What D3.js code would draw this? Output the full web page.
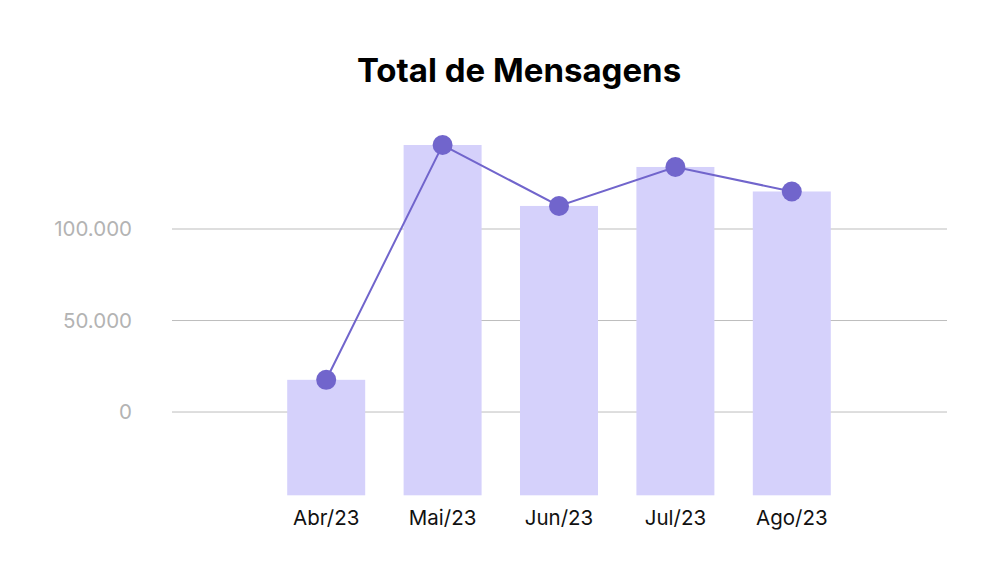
<!DOCTYPE html>
<html>
<head>
<meta charset="utf-8">
<script src="https://cdn.jsdelivr.net/npm/d3@7"></script>
<style>
  body { margin: 0; background: #fff; }
  text { font-family: Inter, "Noto Sans", sans-serif; }
</style>
</head>
<body>
<svg class="display"></svg>
<script>
const months = ['Abr/23', 'Mai/23', 'Jun/23', 'Jul/23', 'Ago/23'];
const totals = [17600, 145900, 112600, 133900, 120500];
const yTicks = [0, 50000, 100000];

const width = 1000;
const height = 583;

const svg = d3.select('.display')
  .attr('width', width)
  .attr('height', height);

const x = d3.scaleBand()
  .domain(months)
  .range([268, 850])
  .paddingInner(0.33)
  .paddingOuter(0.165);

const y = d3.scaleLinear()
  .domain([-45500, 150000])
  .range([495.3, 137.5]);

const fmt = d => d3.format(',')(d).replace(/,/g, '.');

// gridlines + tick labels
const grid = svg.append('g');
grid.selectAll('line')
  .data(yTicks)
  .enter().append('line')
    .attr('x1', 172)
    .attr('x2', 947)
    .attr('y1', d => y(d))
    .attr('y2', d => y(d))
    .attr('stroke', '#bdbdbd')
    .attr('stroke-width', 1);

grid.selectAll('text')
  .data(yTicks)
  .enter().append('text')
    .attr('x', 132)
    .attr('y', d => y(d))
    .attr('dy', '.35em')
    .attr('text-anchor', 'end')
    .attr('font-size', 20.5)
    .attr('fill', '#b3b3b3')
    .text(fmt);

// bars
svg.append('g').selectAll('rect')
  .data(totals)
  .enter().append('rect')
    .attr('x', (d, i) => x(months[i]))
    .attr('width', x.bandwidth())
    .attr('y', d => y(d))
    .attr('height', d => y.range()[0] - y(d))
    .attr('fill', '#d5d1fb');

// line + points
const line = d3.line()
  .x((d, i) => x(months[i]) + x.bandwidth() / 2)
  .y(d => y(d));

svg.append('path')
  .datum(totals)
  .attr('d', line)
  .attr('fill', 'none')
  .attr('stroke', '#7165cc')
  .attr('stroke-width', 2);

svg.append('g').selectAll('circle')
  .data(totals)
  .enter().append('circle')
    .attr('cx', (d, i) => x(months[i]) + x.bandwidth() / 2)
    .attr('cy', d => y(d))
    .attr('r', 10)
    .attr('fill', '#7165cc');

// x labels
svg.append('g').selectAll('text')
  .data(months)
  .enter().append('text')
    .attr('x', d => x(d) + x.bandwidth() / 2)
    .attr('y', 525)
    .attr('text-anchor', 'middle')
    .attr('font-size', 20.5)
    .attr('fill', '#111')
    .text(d => d);

// title
svg.append('text')
  .attr('x', 519)
  .attr('y', 82)
  .attr('text-anchor', 'middle')
  .attr('font-size', 33)
  .attr('font-weight', 700)
  .attr('fill', '#000')
  .text('Total de Mensagens');
</script>
</body>
</html>
